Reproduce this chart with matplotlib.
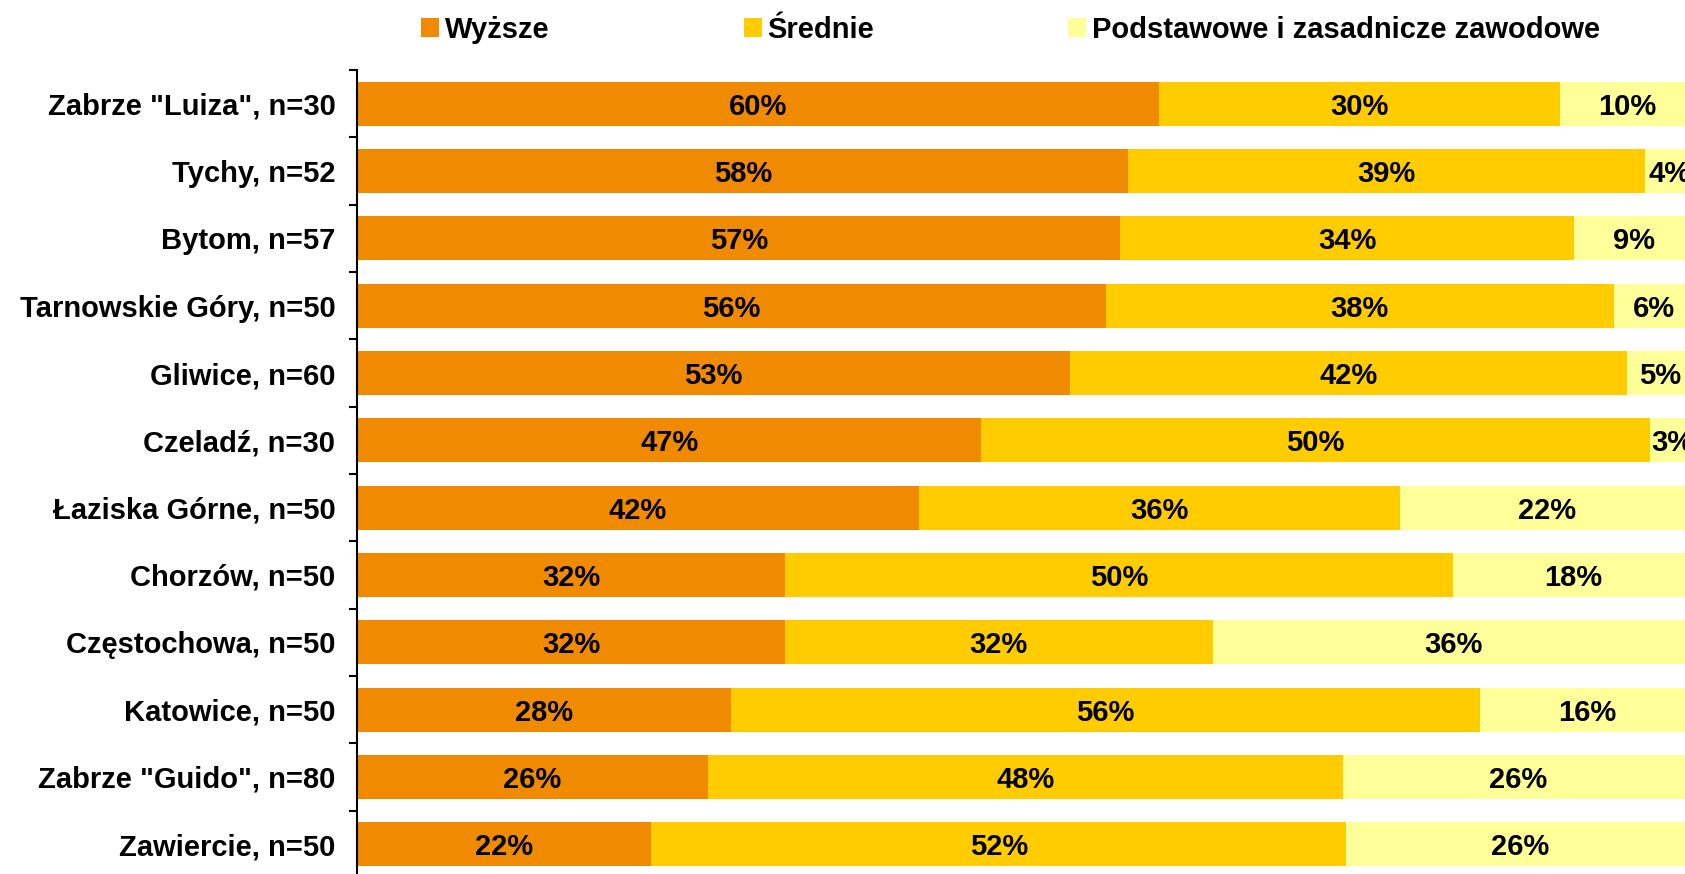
import numpy as np
import matplotlib
matplotlib.use('Agg')
import matplotlib.pyplot as plt

plt.rcParams['font.family'] = ['Liberation Sans', 'DejaVu Sans']
plt.rcParams['font.weight'] = 'bold'

cities = ['Zabrze "Luiza", n=30', 'Tychy, n=52', 'Bytom, n=57', 'Tarnowskie Góry, n=50',
          'Gliwice, n=60', 'Czeladź, n=30', 'Łaziska Górne, n=50', 'Chorzów, n=50',
          'Częstochowa, n=50', 'Katowice, n=50', 'Zabrze "Guido", n=80', 'Zawiercie, n=50']
# shares in % (labels show them rounded)
wyzsze = [60.0, 57.7, 57.1, 56.0, 53.3, 46.7, 42.0, 32.0, 32.0, 28.0, 26.25, 22.0]
srednie = [30.0, 38.6, 33.9, 38.0, 41.7, 50.0, 36.0, 50.0, 32.0, 56.0, 47.5, 52.0]
podstawowe = [10.0, 3.7, 9.0, 6.0, 5.0, 3.3, 22.0, 18.0, 36.0, 16.0, 26.25, 26.0]
series_names = ['Wyższe', 'Średnie', 'Podstawowe i zasadnicze zawodowe']
colors = ['#F08A00', '#FFCC00', '#FFFF99']

fig = plt.figure(figsize=(16.85, 8.74), dpi=100)
ax = fig.add_axes([357/1685, -4/874, 1337/1685, 808/874])

y = np.arange(len(cities))
left = np.zeros(len(cities))
for vals, name, col in zip([wyzsze, srednie, podstawowe], series_names, colors):
    bars = ax.barh(y, vals, left=left, height=0.65, color=col, label=name)
    txts = ax.bar_label(bars, labels=[f'{v:.0f}%' for v in vals], label_type='center',
                        fontsize=21, fontweight='bold', color='black')
    for t in txts:
        t.set_va('center_baseline')
    left += np.array(vals)

ax.set_xlim(0, 100)
ax.set_ylim(len(cities) - 0.5, -0.5)
ax.set_yticks(y)
ax.set_yticklabels(cities, fontsize=21, fontweight='bold')
ax.set_yticks(np.arange(len(cities) + 1) - 0.5, minor=True)
ax.tick_params(axis='y', which='major', length=0, pad=15.5)
ax.tick_params(axis='y', which='minor', length=6, width=1.5, direction='out')
ax.set_xticks([])
for s in ['top', 'right', 'bottom']:
    ax.spines[s].set_visible(False)
ax.spines['left'].set_linewidth(1.5)

fig.legend(loc='center left', bbox_to_anchor=(421/1685, 1 - 30/874), ncol=3,
           frameon=False, fontsize=21, handlelength=0.62, handleheight=0.62,
           handletextpad=0.2, columnspacing=6.65, borderpad=0, borderaxespad=0)

fig.savefig('out.png', dpi=100)
